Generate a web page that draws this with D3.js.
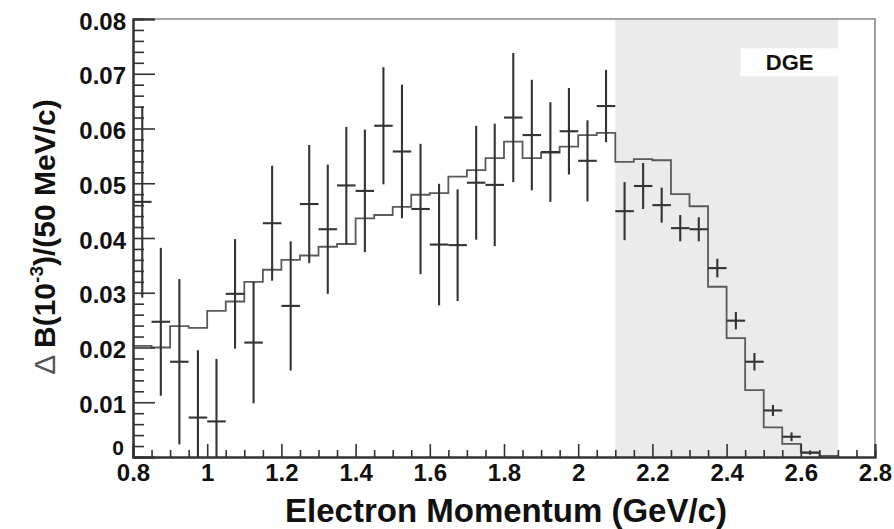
<!DOCTYPE html>
<html>
<head>
<meta charset="utf-8">
<script src="https://cdn.jsdelivr.net/npm/d3@7"></script>
<style>
  html, body { margin: 0; padding: 0; background: #fff; }
  svg { display: block; }
  text { font-family: "Liberation Sans", Arial, Helvetica, sans-serif; fill: #111; }
</style>
</head>
<body>
<svg id="chart" width="894" height="529"></svg>
<script>
// Measured points: bin centre (GeV/c), partial branching fraction, statistical error
const momentum = [0.825, 0.875, 0.925, 0.975, 1.025, 1.075, 1.125, 1.175, 1.225, 1.275,
                  1.325, 1.375, 1.425, 1.475, 1.525, 1.575, 1.625, 1.675, 1.725, 1.775,
                  1.825, 1.875, 1.925, 1.975, 2.025, 2.075, 2.125, 2.175, 2.225, 2.275,
                  2.325, 2.375, 2.425, 2.475, 2.525, 2.575, 2.625];
const dataValues = [0.0466, 0.0247, 0.0174, 0.0072, 0.0065, 0.0298, 0.0209, 0.0427, 0.0276, 0.0462,
                    0.0416, 0.0496, 0.0486, 0.0605, 0.0558, 0.0453, 0.0388, 0.0387, 0.0501, 0.0497,
                    0.0620, 0.0588, 0.0557, 0.0595, 0.0541, 0.0641, 0.0449, 0.0495, 0.0460, 0.0418,
                    0.0416, 0.0345, 0.0249, 0.0174, 0.0085, 0.0037, 0.0008];
const dataErrors = [0.0175, 0.0135, 0.0151, 0.0123, 0.0114, 0.0100, 0.0111, 0.0105, 0.0118, 0.0108,
                    0.0118, 0.0107, 0.0112, 0.0107, 0.0122, 0.0119, 0.0111, 0.0102, 0.0104, 0.0112,
                    0.0118, 0.0101, 0.0091, 0.0079, 0.0074, 0.0066, 0.0053, 0.0042, 0.0032, 0.0024,
                    0.0022, 0.0017, 0.0016, 0.0016, 0.0010, 0.0008, 0.0004];

// Model spectrum: lower bin edges (GeV/c) and contents
const histEdges = [0.80, 0.85, 0.90, 0.95, 1.00, 1.05, 1.10, 1.15, 1.20, 1.25,
                   1.30, 1.35, 1.40, 1.45, 1.50, 1.55, 1.60, 1.65, 1.70, 1.75,
                   1.80, 1.85, 1.90, 1.95, 2.00, 2.05, 2.10, 2.15, 2.20, 2.25,
                   2.30, 2.35, 2.40, 2.45, 2.50, 2.55, 2.60, 2.65];
const histValues = [0.0203, 0.0200, 0.0239, 0.0236, 0.0267, 0.0284, 0.0320, 0.0342, 0.0360, 0.0368,
                    0.0384, 0.0389, 0.0436, 0.0442, 0.0457, 0.0479, 0.0482, 0.0512, 0.0524, 0.0546,
                    0.0576, 0.0546, 0.0556, 0.0567, 0.0588, 0.0592, 0.0539, 0.0544, 0.0542, 0.0480,
                    0.0458, 0.0311, 0.0217, 0.0122, 0.0054, 0.0024, 0.0008, 0.0002];
const binWidth = 0.05;

// Shaded signal window and its label
const windowRange = [2.1, 2.7];
const windowLabel = "DGE";

// Axis ticks and titles
const xMajorTicks = [0.8, 1.0, 1.2, 1.4, 1.6, 1.8, 2.0, 2.2, 2.4, 2.6, 2.8];
const yMajorTicks = [0, 0.01, 0.02, 0.03, 0.04, 0.05, 0.06, 0.07, 0.08];
const xTitle = "Electron Momentum (GeV/c)";

const svg = d3.select("#chart");
const W = 894, H = 529;
const margin = { left: 133, top: 19, right: 19, bottom: 72 };
const iw = W - margin.left - margin.right;
const ih = H - margin.top - margin.bottom;

const x = d3.scaleLinear().domain([0.8, 2.8]).range([margin.left, margin.left + iw]);
const y = d3.scaleLinear().domain([0, 0.08]).range([margin.top + ih, margin.top]);

// shaded window
svg.append("rect")
  .attr("x", x(windowRange[0]))
  .attr("y", y(0.08))
  .attr("width", x(windowRange[1]) - x(windowRange[0]))
  .attr("height", y(0) - y(0.08))
  .attr("fill", "#ebebeb");

// window label box
const labelCx = x(2.57), labelCy = y(0.0720);
svg.append("rect")
  .attr("x", labelCx - 49).attr("y", labelCy - 14.5)
  .attr("width", 98).attr("height", 28)
  .attr("fill", "#fff");
svg.append("text")
  .attr("x", labelCx).attr("y", labelCy)
  .attr("text-anchor", "middle")
  .attr("dominant-baseline", "central")
  .attr("font-size", 22).attr("font-weight", "bold")
  .text(windowLabel);

// model histogram as a stepped outline, closed down to zero at the upper end
const stepPts = histEdges.map((e, i) => [e, histValues[i]]);
const lastEdge = histEdges[histEdges.length - 1] + binWidth;
stepPts.push([lastEdge, 0]);
const stepLine = d3.line()
  .x(d => x(d[0]))
  .y(d => y(d[1]))
  .curve(d3.curveStepAfter);
svg.append("path")
  .attr("d", stepLine(stepPts))
  .attr("fill", "none")
  .attr("stroke", "#5a5a5a")
  .attr("stroke-width", 1.8);

// data points: horizontal bar over the bin, vertical error bar
const pts = svg.append("g")
  .attr("stroke", "#333")
  .attr("stroke-width", 2.1);
momentum.forEach((m, i) => {
  const v = dataValues[i], e = dataErrors[i];
  const lo = Math.max(0, v - e), hi = Math.min(0.08, v + e);
  pts.append("line")
    .attr("x1", x(m)).attr("x2", x(m))
    .attr("y1", y(lo)).attr("y2", y(hi));
  pts.append("line")
    .attr("x1", x(m - binWidth / 2)).attr("x2", x(m + binWidth / 2))
    .attr("y1", y(v)).attr("y2", y(v));
});

// frame: top and right edges
svg.append("path")
  .attr("d", `M${x(0.8)},${y(0.08)}H${x(2.8)}V${y(0)}`)
  .attr("fill", "none")
  .attr("stroke", "#888")
  .attr("stroke-width", 1.6);

// y axis: major ticks with labels, minor ticks without
const yMinor = d3.range(0, 0.0801, 0.002).filter(v => Math.abs(Math.round(v * 100) - v * 100) > 1e-6);
const yAxisMinor = svg.append("g")
  .attr("transform", `translate(${margin.left},0)`)
  .call(d3.axisLeft(y).tickValues(yMinor).tickSize(-11).tickFormat(""));
const yAxis = svg.append("g")
  .attr("transform", `translate(${margin.left},0)`)
  .call(d3.axisLeft(y).tickValues(yMajorTicks).tickSize(-22).tickPadding(7)
    .tickFormat(d => d === 0 ? "0" : d3.format(".2f")(d)));

// x axis
const xMinor = d3.range(0.85, 2.8, 0.05).filter(v => Math.abs(v * 5 - Math.round(v * 5)) > 1e-6);
const xAxisMinor = svg.append("g")
  .attr("transform", `translate(0,${margin.top + ih})`)
  .call(d3.axisBottom(x).tickValues(xMinor).tickSize(-7).tickFormat(""));
const xAxis = svg.append("g")
  .attr("transform", `translate(0,${margin.top + ih})`)
  .call(d3.axisBottom(x).tickValues(xMajorTicks).tickSize(-13).tickPadding(4)
    .tickFormat(d => d3.format("")(+d.toFixed(1))));

[yAxisMinor, yAxis, xAxisMinor, xAxis].forEach(g => {
  g.select(".domain").attr("stroke", "#333").attr("stroke-width", 2);
  g.selectAll(".tick line").attr("stroke", "#333").attr("stroke-width", 1.6);
  g.selectAll("text")
    .attr("font-family", "'Liberation Sans', Arial, sans-serif")
    .attr("font-weight", "bold")
    .attr("font-size", 24)
    .attr("fill", "#111");
});
yAxis.selectAll(".tick text").attr("dy", "0.42em");
// the zero label sits just above the first x label
yAxis.selectAll(".tick").filter(d => d === 0).select("text")
  .attr("dy", "-0.12em").attr("x", -9).attr("font-size", 21);
xAxis.selectAll(".tick text").attr("dy", "0.82em");

// axis titles
svg.append("text")
  .attr("x", 506).attr("y", 522)
  .attr("text-anchor", "middle")
  .attr("font-size", 33).attr("font-weight", "bold")
  .text(xTitle);

const yTitle = svg.append("text")
  .attr("transform", "translate(55,237) rotate(-90)")
  .attr("text-anchor", "middle")
  .attr("font-size", 30).attr("font-weight", "bold");
yTitle.append("tspan").attr("font-weight", "normal").attr("fill", "#555").text("\u0394 ");
yTitle.append("tspan").text("B(10");
yTitle.append("tspan").attr("font-size", 19).attr("dy", -12).text("-3");
yTitle.append("tspan").attr("dy", 12).text(")/(50 MeV/c)");
</script>
</body>
</html>
